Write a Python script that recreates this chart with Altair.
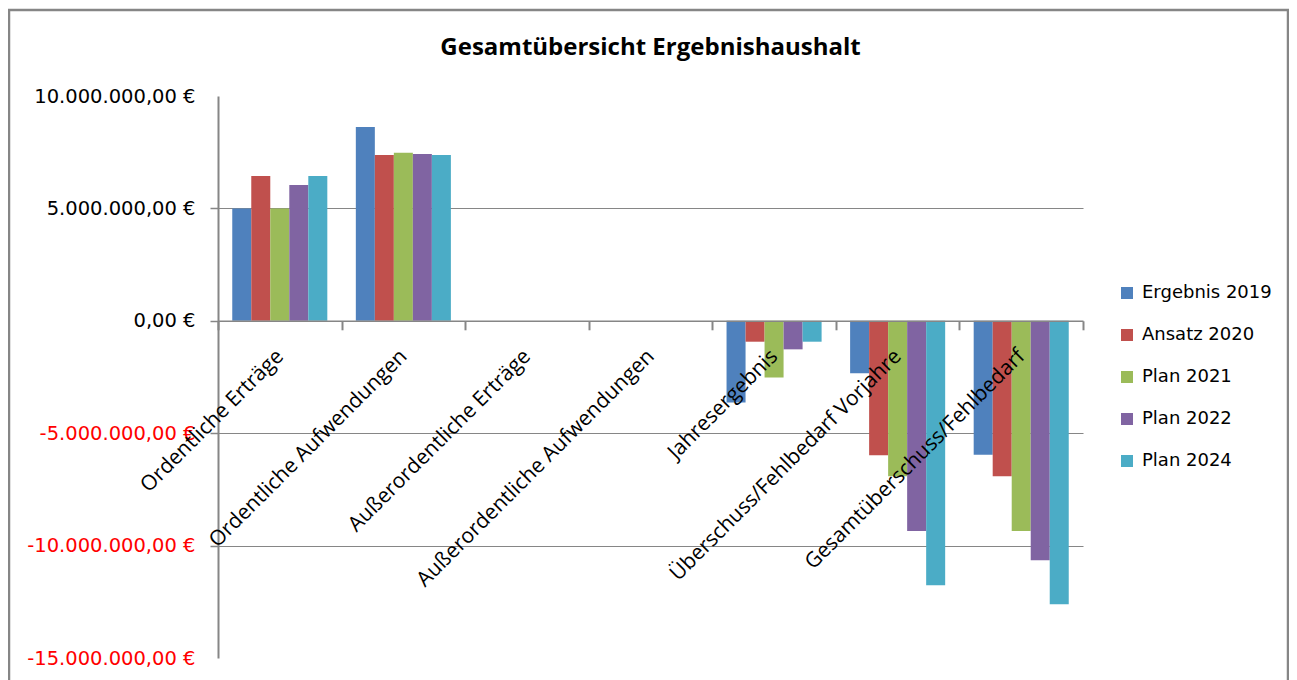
import altair as alt
import pandas as pd

chart_title = "Gesamtübersicht Ergebnishaushalt"
categories = [
    "Ordentliche Erträge",
    "Ordentliche Aufwendungen",
    "Außerordentliche Erträge",
    "Außerordentliche Aufwendungen",
    "Jahresergebnis",
    "Überschuss/Fehlbedarf Vorjahre",
    "Gesamtüberschuss/Fehlbedarf",
]
series = ["Ergebnis 2019", "Ansatz 2020", "Plan 2021", "Plan 2022", "Plan 2024"]
colors = ["#4F81BD", "#C0504D", "#9BBB59", "#8064A2", "#4BACC6"]

ergebnis_2019 = [5.00e6, 8.62e6, 0, 0, -3.63e6, -2.33e6, -5.96e6]
ansatz_2020 = [6.44e6, 7.38e6, 0, 0, -0.93e6, -5.98e6, -6.92e6]
plan_2021 = [4.99e6, 7.47e6, 0, 0, -2.52e6, -6.92e6, -9.35e6]
plan_2022 = [6.04e6, 7.42e6, 0, 0, -1.27e6, -9.35e6, -10.65e6]
plan_2024 = [6.44e6, 7.38e6, 0, 0, -0.93e6, -11.76e6, -12.61e6]

y_ticks = [-15e6, -10e6, -5e6, 0, 5e6, 10e6]
y_min, y_max = -15e6, 10e6

rows = []
for name, vals in zip(series, [ergebnis_2019, ansatz_2020, plan_2021, plan_2022, plan_2024]):
    for c, v in zip(categories, vals):
        rows.append({"Kategorie": c, "Reihe": name, "Wert": v})
df = pd.DataFrame(rows)

W, H = 865, 562
PAD_L, PAD_T = 210, 88
zero_offset = -(H * (0 - y_min) / (y_max - y_min))

label_expr = (
    "(datum.value < 0 ? '-' : '') + "
    "replace(replace(replace(format(abs(datum.value), ',.2f'), regexp(',', 'g'), '#'), '.', ','), regexp('#', 'g'), '.') + ' €'"
)

gray = "#868686"

bars = alt.Chart(df).mark_bar().encode(
    x=alt.X(
        "Kategorie:N",
        sort=categories,
        title=None,
        scale=alt.Scale(paddingInner=0, paddingOuter=0),
        axis=alt.Axis(
            orient="bottom",
            offset=zero_offset,
            labelAngle=-45,
            labelAlign="right",
            labelBaseline="middle",
            labelFont="Open Sans",
            labelFontSize=21,
            labelColor="black",
            labelPadding=23,
            labelLimit=0,
            tickBand="extent",
            tickSize=9,
            tickColor=gray,
            tickWidth=2,
            domainColor=gray,
            domainWidth=1.5,
            grid=False,
            zindex=2,
        ),
    ),
    xOffset=alt.XOffset(
        "Reihe:N", sort=series, scale=alt.Scale(paddingInner=0, paddingOuter=0.75)
    ),
    y=alt.Y(
        "Wert:Q",
        title=None,
        scale=alt.Scale(domain=[y_min, y_max], nice=False, zero=False),
        axis=alt.Axis(
            values=y_ticks,
            labelExpr=label_expr,
            labelFont="DejaVu Sans",
            labelFontSize=19.5,
            labelColor=alt.condition("datum.value < 0", alt.value("#FF0000"), alt.value("black")),
            labelPadding=15,
            tickSize=8,
            tickColor=gray,
            tickWidth=1.5,
            tickOpacity=alt.condition(
                "datum.value == 10000000 || datum.value == -15000000", alt.value(0), alt.value(1)
            ),
            domainColor=gray,
            domainWidth=2,
            grid=True,
            gridColor=gray,
            gridWidth=1.2,
            gridOpacity=alt.condition(
                "datum.value == 10000000 || datum.value == -15000000 || datum.value == 0",
                alt.value(0),
                alt.value(1),
            ),
        ),
    ),
    color=alt.Color(
        "Reihe:N",
        sort=series,
        scale=alt.Scale(domain=series, range=colors),
        legend=alt.Legend(
            title=None,
            orient="none",
            legendX=900,
            legendY=188,
            symbolType="square",
            symbolSize=144,
            symbolStrokeWidth=0,
            labelFont="DejaVu Sans",
            labelFontSize=18,
            labelColor="black",
            labelOffset=6,
            rowPadding=24,
            padding=0,
        ),
    ),
)

frame = alt.Chart(alt.Data(values=[{"f": 1}])).mark_rect(
    fill=None, stroke=gray, strokeWidth=2.5
).encode(
    x=alt.value(-209),
    x2=alt.value(1070),
    y=alt.value(-86),
    y2=alt.value(700),
)

title = alt.Chart(alt.Data(values=[{"t": chart_title}])).mark_text(
    font="Open Sans", fontSize=24, fontWeight="bold", color="black",
    align="center", baseline="middle",
).encode(
    text="t:N",
    x=alt.value(W / 2),
    y=alt.value(-48),
)

chart = (
    alt.layer(frame, bars, title)
    .properties(
        width=W,
        height=H,
        background="white",
        autosize=alt.AutoSizeParams(type="none"),
        padding={"left": PAD_L, "top": PAD_T, "right": 206, "bottom": 40},
    )
    .configure_view(stroke="transparent", strokeWidth=0)
)

chart.save("out.html", embed_options={"renderer": "svg", "actions": False})
